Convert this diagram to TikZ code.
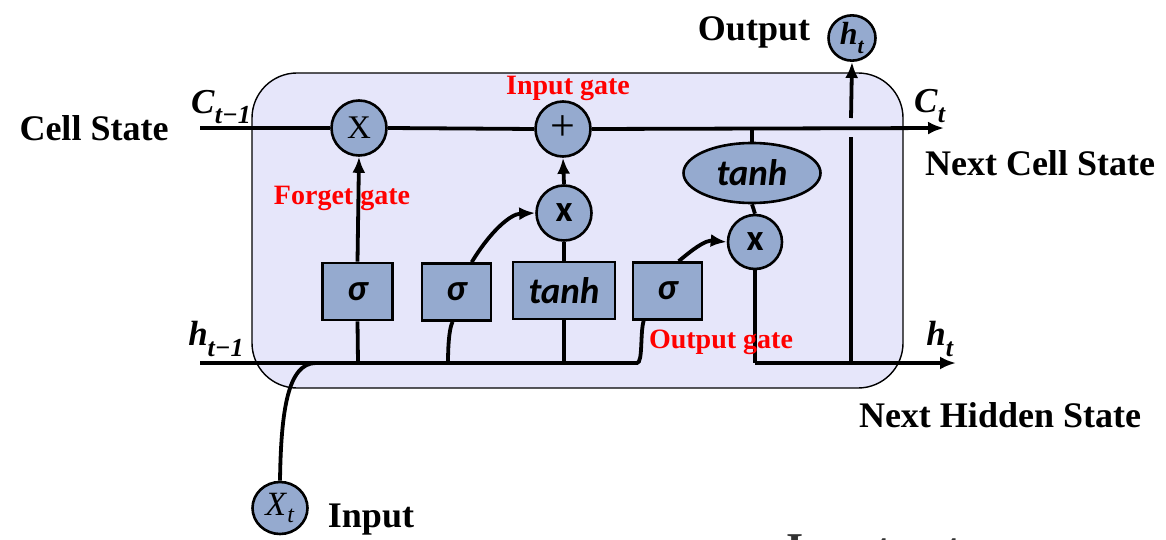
\documentclass[tikz,border=0pt]{standalone}
\usepackage{fontspec}
\setmainfont{Liberation Serif}
\newfontfamily\carl{Carlito}
\usetikzlibrary{arrows.meta,shapes.geometric}
\definecolor{cellbg}{RGB}{230,230,250}
\definecolor{gatefill}{RGB}{149,170,207}
\newcommand{\sublab}[2]{\textbf{\textit{#1}}\raisebox{-0.3em}{\fontsize{26}{26}\selectfont\textbf{\textit{#2}}}}
\tikzset{
 conn/.style={line width=3.8pt},
 arr/.style={conn,-{Latex[length=16pt,width=13pt]}},
 gatebox/.style={draw, line width=2.6pt, fill=gatefill, minimum width=70pt, minimum height=57pt, inner sep=0pt, font=\carl\bfseries\itshape\fontsize{37}{39}\selectfont},
 opcircle/.style={circle, draw, line width=2.6pt, fill=gatefill, minimum size=55pt, inner sep=0pt},
 sansx/.style={font=\carl\bfseries\fontsize{37}{39}\selectfont},
 lbl/.style={font=\bfseries\fontsize{36}{40}\selectfont, inner sep=0pt},
 redlbl/.style={text=red, font=\bfseries\fontsize{28}{30}\selectfont, inner sep=0pt},
 mathlbl/.style={font=\fontsize{35}{37}\selectfont, inner sep=0pt},
}
\begin{document}
\begin{tikzpicture}[x=1pt,y=-1pt]
\useasboundingbox (0,0) rectangle (1166,540);
% cell
\draw[fill=cellbg, line width=1.4pt, rounded corners=45pt] (252,73) rectangle (903,388);
% gates
\node[gatebox] (s1) at (357.5,291.5) {σ};
\node[gatebox, minimum width=69pt] (s2) at (456.5,292) {σ};
\node[gatebox, minimum width=102pt] (tb) at (564,290.5) {tanh};
\node[gatebox, minimum width=69pt] (s3) at (667.5,291) {σ};
\node[opcircle, font=\fontsize{33}{35}\selectfont] (fx) at (359,128) {X};
\node[opcircle, font=\fontsize{44}{44}\selectfont] (pl) at (563,129) {\raisebox{2pt}{+}};
\node[opcircle, sansx] (ix) at (564,213) {x};
\node[opcircle, sansx, minimum size=54pt] (ox) at (755,242) {x};
\node[ellipse, draw, line width=2.6pt, fill=gatefill, minimum width=137pt, minimum height=60pt, inner sep=0pt, font=\carl\bfseries\itshape\fontsize{37}{39}\selectfont] (th) at (752,173) {tanh};
\node[ellipse, draw, line width=2.6pt, fill=gatefill, minimum width=47pt, minimum height=42pt, inner sep=0pt, font=\fontsize{32}{34}\selectfont] (hout) at (852,38) {\sublab{h}{\fontsize{22}{22}\selectfont t}};
\node[ellipse, draw, line width=2.6pt, fill=gatefill, minimum width=55pt, minimum height=52pt, inner sep=0pt, font=\fontsize{34}{36}\selectfont] (xt) at (280,508) {\textit{X}\raisebox{-7pt}{\fontsize{24}{24}\selectfont\textit{t}}};
% coordinates
\coordinate (cs) at (200,128);
\coordinate (ce) at (944,128);
\coordinate (hs) at (200,363);
\coordinate (he) at (956,363);
\coordinate (thtop) at (752,128);
\coordinate (oxb) at (755,363);
\coordinate (vb) at (851,363);
\coordinate (vm1) at (851,137);
\coordinate (vm2) at (851,118);
\coordinate (s1b) at (358,363);
\coordinate (tbb) at (564,363);
\coordinate (s2b) at (448,363);
\coordinate (s3b) at (637,363);
\coordinate (xtj) at (316,363);
% cell state line
\draw[conn] (cs) -- (fx.west);
\draw[conn] (fx.east) -- (pl.west);
\draw[arr] (pl.east) -- (ce);
% hidden line
\draw[conn] (hs) -- (s3b) .. controls (643,363) and (640,332) .. ([xshift=12pt]s3.south west);
\draw[conn] (xt.north) .. controls (281,410) and (288,363) .. (xtj);
% forget path
\draw[conn] (s1b) -- (s1.south);
\draw[arr] (s1.north) -- (fx.south);
% input path
\draw[conn] (s2b) .. controls (448,340) and (450,326) .. ([xshift=32pt]s2.south west);
\draw[arr] ([xshift=51pt]s2.north west) .. controls (490,232) and (510,214) .. (ix.west);
\draw[conn] (tbb) -- (tb.south);
\draw[conn] (tb.north) -- (ix.south);
\draw[arr] (ix.north) -- (pl.south);
% output path
\draw[arr] ([xshift=47pt]s3.north west) .. controls (692,250) and (705,240) .. (ox.west);
\draw[conn] (thtop) -- (th.north);
\draw[conn] (th.south) -- (ox.north);
\draw[conn] (ox.south) -- (oxb);
\draw[arr] (oxb) -- (he);
\draw[conn] (vb) -- (vm1);
\draw[arr] (vm2) -- (hout.south);
% labels
\node[lbl] (lcs) at (94,128) {Cell State};
\node[lbl] (lncs) at (1040,163) {Next Cell State};
\node[lbl] (lnhs) at (1000,415) {Next Hidden State};
\node[lbl] (lout) at (754,32) {Output};
\node[lbl] (lin) at (371,520) {Input};
\node[mathlbl] (lc1) at (221,107) {\sublab{C}{t−1}};
\node[mathlbl] (lc2) at (930,106) {\sublab{C}{t}};
\node[mathlbl] (lh1) at (216,339) {\sublab{h}{t−1}};
\node[mathlbl] (lh2) at (940,339) {\sublab{h}{t}};
\node[redlbl] (rin) at (568,88) {Input gate};
\node[redlbl] (rfg) at (342,198) {Forget gate};
\node[redlbl] (rog) at (721,342) {Output gate};
\begin{scope}
\clip (0,0) rectangle (1166,540);
\node[anchor=base west, inner sep=0pt, text=black!80, font=\bfseries\fontsize{44}{46}\selectfont] (cut) at (786,563) {Input gate};
\end{scope}
\end{tikzpicture}
\end{document}
